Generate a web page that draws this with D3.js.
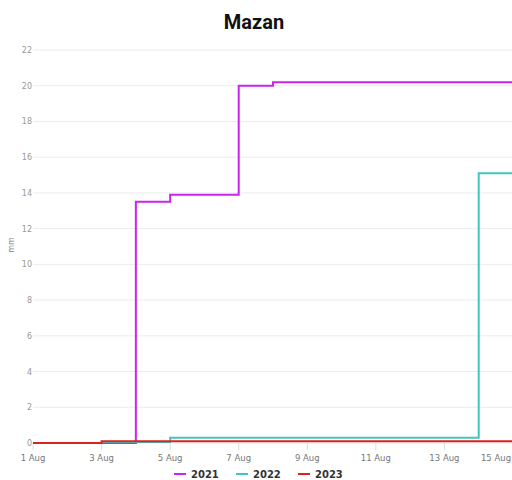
<!DOCTYPE html>
<html>
<head>
<meta charset="utf-8">
<script src="https://cdn.jsdelivr.net/npm/d3@7"></script>
<style>
  body { margin: 0; background: #fff; }
  svg { display: block; }
</style>
</head>
<body>
<svg width="512" height="480"></svg>
<script>
// days of August, one reading per day (cumulative rain, mm)
const days = [1, 2, 3, 4, 5, 6, 7, 8, 9, 10, 11, 12, 13, 14, 15, 16];
const rain2021 = [0, 0, 0, 13.5, 13.9, 13.9, 20.0, 20.2, 20.2, 20.2, 20.2, 20.2, 20.2, 20.2, 20.2, 20.2];
const rain2022 = [null, null, 0.05, 0.05, 0.3, 0.3, 0.3, 0.3, 0.3, 0.3, 0.3, 0.3, 0.3, 15.1, 15.1, 15.1];
const rain2023 = [0, 0, 0.1, 0.1, 0.1, 0.1, 0.1, 0.1, 0.1, 0.1, 0.1, 0.1, 0.1, 0.1, 0.1, 0.1];
const seriesNames = ['2021', '2022', '2023'];
const seriesColors = ['#cc22f2', '#3fc6c0', '#dd2222'];
const yTicks = [0, 2, 4, 6, 8, 10, 12, 14, 16, 18, 20, 22];

const svg = d3.select('svg');
const plotLeft = 33, plotRight = 512, plotTop = 50, plotBottom = 443;

const date = d => new Date(2023, 7, d);
const x = d3.scaleTime().domain([date(1), date(15)]).range([plotLeft, 513]);
const y = d3.scaleLinear().domain([0, 22]).range([plotBottom, plotTop]);

svg.append('text')
    .attr('x', 254).attr('y', 29)
    .attr('text-anchor', 'middle')
    .style('font-family', 'Roboto, sans-serif')
    .style('font-weight', 'bold')
    .style('font-size', '20px')
    .attr('fill', '#111')
    .text('Mazan');

// grid + y labels
const yAxis = svg.append('g');
yAxis.selectAll('line').data(yTicks).enter()
    .append('line')
    .attr('x1', plotLeft).attr('x2', plotRight)
    .attr('y1', d => y(d)).attr('y2', d => y(d))
    .attr('stroke', '#ececec').attr('stroke-width', 1);
yAxis.selectAll('text').data(yTicks).enter()
    .append('text')
    .attr('x', plotLeft - 1).attr('y', d => y(d) + 3)
    .attr('text-anchor', 'end')
    .style('font-family', 'DejaVu Sans, sans-serif')
    .style('font-size', '8px')
    .attr('fill', '#999')
    .text(d => d);

svg.append('text')
    .attr('transform', 'translate(14,245) rotate(-90)')
    .attr('text-anchor', 'middle')
    .style('font-family', 'DejaVu Sans, sans-serif')
    .style('font-size', '8px')
    .attr('fill', '#888')
    .text('mm');

// x axis
const xTicks = d3.timeDay.every(2).range(date(1), date(16));
const xAxis = svg.append('g');
xAxis.selectAll('line').data(xTicks).enter()
    .append('line')
    .attr('x1', d => x(d)).attr('x2', d => x(d))
    .attr('y1', plotBottom).attr('y2', plotBottom + 7)
    .attr('stroke', '#dcdcdc');
xAxis.selectAll('text').data(xTicks).enter()
    .append('text')
    .attr('x', d => Math.min(x(d), plotRight - 16))
    .attr('y', plotBottom + 18)
    .attr('text-anchor', 'middle')
    .style('font-family', 'DejaVu Sans, sans-serif')
    .style('font-size', '8.5px')
    .attr('fill', '#777')
    .text(d3.timeFormat('%-d %b'));

// lines
svg.append('clipPath').attr('id', 'plot')
    .append('rect').attr('x', plotLeft).attr('y', 0).attr('width', plotRight - plotLeft).attr('height', plotBottom + 5);

const line = d3.line()
    .defined(d => d[1] != null)
    .x(d => x(date(d[0])))
    .y(d => y(d[1]))
    .curve(d3.curveStepAfter);

const series = [rain2021, rain2022, rain2023];
const plot = svg.append('g').attr('clip-path', 'url(#plot)');
series.forEach((vals, i) => {
    plot.append('path')
        .attr('d', line(days.map((d, j) => [d, vals[j]])))
        .attr('fill', 'none')
        .attr('stroke', seriesColors[i])
        .attr('stroke-width', 2);
});

// legend
const legend = svg.append('g').attr('transform', 'translate(174,474)');
seriesNames.forEach((name, i) => {
    const g = legend.append('g').attr('transform', `translate(${i * 62},0)`);
    g.append('line').attr('x1', 0).attr('x2', 12).attr('y1', 0).attr('y2', 0)
        .attr('stroke', seriesColors[i]).attr('stroke-width', 2);
    g.append('text').attr('x', 17).attr('y', 4)
        .style('font-family', 'DejaVu Sans, sans-serif')
        .style('font-weight', 'bold')
        .style('font-size', '10px')
        .attr('fill', '#333')
        .text(name);
});
</script>
</body>
</html>
